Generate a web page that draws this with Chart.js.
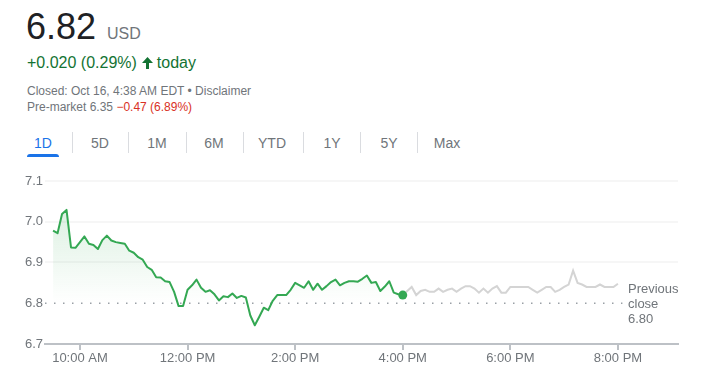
<!DOCTYPE html>
<html>
<head>
<meta charset="utf-8">
<script src="https://cdn.jsdelivr.net/npm/chart.js@4.4.0/dist/chart.umd.min.js"></script>
<style>
  body { margin: 0; background: #fff; font-family: Arial, 'Liberation Sans', sans-serif; }
  .abs { position: absolute; white-space: nowrap; }
  #price { left: 26px; top: 9px; font-size: 36px; line-height: 36px; color: #202124; }
  #cur { left: 107px; top: 26px; font-size: 16px; line-height: 16px; color: #70757a; }
  #change { left: 27px; top: 55px; font-size: 16px; line-height: 16px; color: #137333; }
  #change svg { vertical-align: -1px; margin: 0 4px 0 5px; }
  #closed { left: 27px; top: 85px; font-size: 12px; line-height: 12px; color: #70757a; }
  #pre { left: 27px; top: 101px; font-size: 12px; line-height: 12px; color: #70757a; }
  #pre .neg { color: #d93025; }
  .tab { position: absolute; top: 136px; width: 50px; text-align: center; font-size: 14px; line-height: 14px; color: #70757a; }
  .tab.on { color: #1a73e8; }
  .sep { position: absolute; top: 132px; width: 1px; height: 21px; background: #dadce0; }
  #underline { position: absolute; left: 27px; top: 154px; width: 32px; height: 3px; background: #1a73e8; border-radius: 3px 3px 0 0; }
  #prevClose { left: 628px; top: 281px; font-size: 13px; line-height: 15px; color: #70757a; }
  #wrap { position: absolute; left: 0; top: 170px; width: 708px; height: 206px; }
</style>
</head>
<body>
<div class="abs" id="price">6.82</div>
<div class="abs" id="cur">USD</div>
<div class="abs" id="change">+0.020 (0.29%)<svg width="11" height="12" viewBox="0 0 11 12"><path d="M5.5 0 L11 6 L7 6 L7 12 L4 12 L4 6 L0 6 Z" fill="#137333"/></svg>today</div>
<div class="abs" id="closed">Closed: Oct 16, 4:38 AM EDT • Disclaimer</div>
<div class="abs" id="pre">Pre-market 6.35 <span class="neg">−0.47 (6.89%)</span></div>
<div id="tabs"></div>
<div id="underline"></div>
<div id="wrap"><canvas id="stockChart"></canvas></div>
<div class="abs" id="prevClose">Previous<br>close<br>6.80</div>

<script>
const rangeTabs = ['1D', '5D', '1M', '6M', 'YTD', '1Y', '5Y', 'Max'];
const tabCenters = [43, 100, 157, 214, 272, 332, 389, 447];
const tabSeparators = [72, 128, 186, 243, 303, 360, 417];

// regular session, 5 minute steps from 9:30
const sessionStart = 570;
const afterStart = 960;
const stepMinutes = 5;
const sessionValues = [
  6.978, 6.972, 7.019, 7.029, 6.937, 6.936, 6.950, 6.964, 6.946, 6.943,
  6.933, 6.955, 6.966, 6.954, 6.950, 6.948, 6.946, 6.929, 6.924, 6.913,
  6.907, 6.889, 6.882, 6.864, 6.863, 6.854, 6.852, 6.828, 6.793, 6.793,
  6.833, 6.844, 6.858, 6.838, 6.828, 6.832, 6.822, 6.807, 6.817, 6.815,
  6.824, 6.813, 6.818, 6.814, 6.770, 6.746, 6.767, 6.789, 6.783, 6.806,
  6.820, 6.820, 6.820, 6.833, 6.850, 6.844, 6.838, 6.854, 6.833, 6.848,
  6.833, 6.842, 6.852, 6.858, 6.844, 6.850, 6.854, 6.854, 6.853, 6.860,
  6.868, 6.850, 6.852, 6.830, 6.841, 6.854, 6.826, 6.822, 6.820
];
// after hours, 16:00 to 20:00
const afterValues = [
  6.820, 6.830, 6.840, 6.820, 6.830, 6.833, 6.828, 6.828, 6.836, 6.828,
  6.833, 6.836, 6.828, 6.836, 6.842, 6.842, 6.836, 6.826, 6.836, 6.826,
  6.836, 6.842, 6.826, 6.826, 6.840, 6.840, 6.840, 6.840, 6.840, 6.833,
  6.826, 6.833, 6.840, 6.840, 6.828, 6.833, 6.840, 6.846, 6.880, 6.850,
  6.846, 6.840, 6.840, 6.840, 6.846, 6.840, 6.840, 6.840, 6.848
];
const previousClose = 6.80;
const tickMinutes = [600, 720, 840, 960, 1080, 1200];
const tickLabels = ['10:00 AM', '12:00 PM', '2:00 PM', '4:00 PM', '6:00 PM', '8:00 PM'];
const yTicks = [6.7, 6.8, 6.9, 7.0, 7.1];

const tabs = document.getElementById('tabs');
rangeTabs.forEach((t, i) => {
  const d = document.createElement('div');
  d.className = 'tab' + (i === 0 ? ' on' : '');
  d.style.left = (tabCenters[i] - 25) + 'px';
  d.textContent = t;
  tabs.appendChild(d);
});
tabSeparators.forEach(x => {
  const s = document.createElement('div');
  s.className = 'sep';
  s.style.left = x + 'px';
  tabs.appendChild(s);
});

const sessionData = sessionValues.map((v, i) => ({ x: sessionStart + i * stepMinutes, y: v }));
const afterData = afterValues.map((v, i) => ({ x: afterStart + i * stepMinutes, y: v }));

function greenFill(context) {
  const chart = context.chart;
  if (!chart.chartArea) return 'rgba(52,168,83,0.1)';
  const y = chart.scales.y;
  const g = chart.ctx.createLinearGradient(0, y.getPixelForValue(7.03), 0, y.getPixelForValue(6.8));
  g.addColorStop(0, 'rgba(52,168,83,0.17)');
  g.addColorStop(1, 'rgba(52,168,83,0)');
  return g;
}

const ctx = document.getElementById('stockChart').getContext('2d');
const myChart = new Chart(ctx, {
  type: 'line',
  data: {
    datasets: [
      {
        data: sessionData,
        borderColor: '#34a853',
        backgroundColor: greenFill,
        borderWidth: 2,
        fill: 'start',
        tension: 0,
        borderJoinStyle: 'round',
        pointRadius: c => c.dataIndex === sessionData.length - 1 ? 4.5 : 0,
        pointBackgroundColor: '#34a853',
        pointBorderWidth: 0,
        order: 1
      },
      {
        data: afterData,
        borderColor: '#d4d4d4',
        borderWidth: 2,
        fill: false,
        tension: 0,
        pointRadius: 0,
        order: 2
      },
      {
        data: [{ x: 561, y: previousClose }, { x: 1205, y: previousClose }],
        borderColor: '#9aa0a6',
        borderWidth: 1.5,
        borderDash: [1.5, 7.5],
        fill: false,
        pointRadius: 0,
        order: 3
      }
    ]
  },
  options: {
    responsive: true,
    maintainAspectRatio: false,
    animation: false,
    layout: { padding: { left: 0, right: 30, top: 11, bottom: 0 } },
    plugins: { legend: { display: false }, tooltip: { enabled: false } },
    scales: {
      x: {
        type: 'linear',
        min: 561,
        max: 1267,
        afterFit: s => { s.height = 32; },
        afterBuildTicks: s => { s.ticks = tickMinutes.map(v => ({ value: v })); },
        border: { color: '#bdc1c6', width: 2 },
        grid: { drawOnChartArea: false, drawTicks: true, tickLength: 6, tickColor: '#bdc1c6', lineWidth: 2 },
        ticks: {
          padding: 1,
          color: '#70757a',
          font: { family: 'Arial, Liberation Sans', size: 13 },
          maxRotation: 0,
          callback: v => tickLabels[tickMinutes.indexOf(v)]
        }
      },
      y: {
        min: 6.7,
        max: 7.1,
        afterFit: s => { s.width = 45; },
        afterBuildTicks: s => { s.ticks = yTicks.map(v => ({ value: v })); },
        border: { display: false },
        grid: {
          drawTicks: false,
          lineWidth: 2,
          color: c => (c.tick && (Math.abs(c.tick.value - 6.8) < 1e-6 || Math.abs(c.tick.value - 6.7) < 1e-6)) ? 'rgba(0,0,0,0)' : '#f6f6f6'
        },
        ticks: {
          padding: 2,
          color: '#70757a',
          font: { family: 'Arial, Liberation Sans', size: 13 },
          callback: v => v.toFixed(1)
        }
      }
    }
  }
});
</script>
</body>
</html>
